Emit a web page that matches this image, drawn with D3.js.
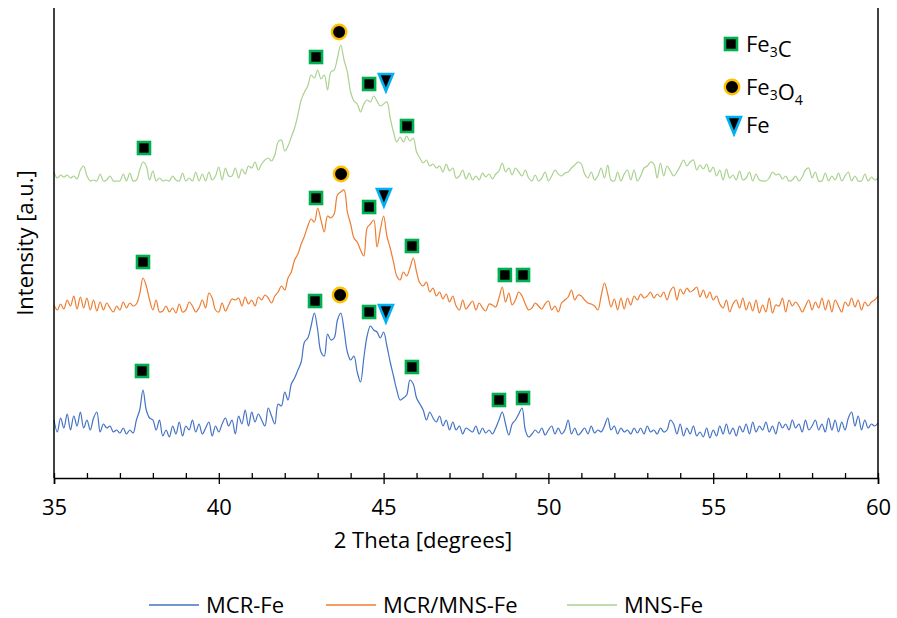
<!DOCTYPE html>
<html>
<head>
<meta charset="utf-8">
<script src="https://cdn.jsdelivr.net/npm/d3@7"></script>
<style>
  html, body { margin: 0; padding: 0; background: #fff; }
  svg { display: block; font-family: "Open Sans", sans-serif; }
</style>
</head>
<body>
<svg id="chart" width="897" height="618"></svg>
<script>
// XRD patterns, 2θ from 35° to 60° in 0.1° steps (stacked, arbitrary units)
const thetaStart = 35;
const thetaStep = 0.1;

const seriesNames = ["MCR-Fe", "MCR/MNS-Fe", "MNS-Fe"];
const seriesColors = ["#4472C4", "#ED7D31", "#A9D18E"];

const mcrFe = [
  58,46,60,50,64,48,62,52,66,50,
  58,48,60,66,46,54,50,52,46,48,
  45,50,44,48,45,58,68,88,68,60,
  58,48,58,42,48,41,52,44,56,42,
  52,48,58,46,54,44,50,56,42,52,
  46,54,60,52,58,44,62,54,68,52,
  66,56,64,58,52,70,62,54,74,72,
  86,78,94,100,108,116,136,140,152,165,
  148,126,122,144,138,140,158,165,148,126,
  118,122,106,96,120,142,152,148,146,140,
  146,132,116,102,88,78,80,83,98,94,
  80,74,68,58,66,60,56,62,52,58,
  48,56,48,52,44,50,48,46,52,44,
  50,45,48,44,50,58,66,54,43,54,
  58,64,70,48,41,44,48,45,50,43,
  48,52,44,50,44,48,58,44,50,43,
  46,50,44,52,45,48,46,52,60,48,
  52,44,50,46,48,44,50,45,50,44,
  52,46,48,44,50,46,48,58,54,44,
  54,42,50,44,52,42,46,41,50,40,
  48,42,52,44,54,44,50,42,52,46,
  54,44,56,46,52,48,56,46,52,44,
  56,50,54,48,58,50,54,46,58,48,
  52,58,48,54,46,60,48,58,46,56,
  48,60,66,52,62,48,58,50,54,52,
  55
];

const mcrMnsFe = [
  173,168,174,169,178,172,182,169,181,170,
  180,168,178,167,176,168,175,170,166,172,
  168,176,170,175,172,174,184,200,192,178,
  168,178,166,167,172,166,170,165,174,166,
  168,176,172,166,170,178,170,185,180,168,
  166,175,167,173,179,178,180,172,181,174,
  178,172,181,178,183,180,175,182,186,192,
  188,200,206,218,224,234,242,252,259,256,
  270,258,246,262,260,264,283,286,288,266,
  254,240,236,228,222,250,254,258,231,248,
  262,242,230,216,202,198,206,202,210,220,
  206,195,192,196,186,190,182,186,179,184,
  176,182,172,168,178,169,173,177,168,175,
  170,167,174,173,171,180,191,176,185,173,
  178,186,182,174,168,170,175,172,169,174,
  177,168,172,166,175,178,181,188,178,183,
  182,178,175,174,172,168,182,195,184,171,
  179,168,180,169,180,173,182,178,184,180,
  182,186,180,184,181,186,178,187,191,178,
  189,184,190,186,188,191,181,188,180,186,
  178,182,174,170,178,166,174,178,170,180,
  168,176,167,178,165,173,166,180,165,173,
  172,180,166,178,172,176,172,166,172,178,
  168,176,170,180,168,178,166,178,172,166,
  176,172,180,171,178,168,176,172,176,178,
  182
];

const mnsFe = [
  306,300,303,301,303,300,302,299,308,312,
  302,297,298,297,304,297,298,302,297,297,
  297,304,297,305,297,298,308,316,312,298,
  307,297,300,297,298,297,302,298,297,305,
  297,300,297,306,297,304,297,306,298,302,
  311,298,310,302,302,310,300,309,304,312,
  310,316,308,314,318,320,317,323,336,338,
  327,332,341,350,363,378,386,392,403,400,
  408,399,403,388,406,408,420,433,418,406,
  386,377,374,366,374,378,376,382,377,372,
  374,376,360,346,336,341,336,342,337,340,
  326,320,315,318,312,314,310,312,306,314,
  307,310,300,302,308,299,305,298,302,298,
  305,301,304,299,304,307,315,306,310,303,
  310,306,302,308,300,297,303,297,300,306,
  297,302,308,304,302,305,306,310,313,316,
  314,304,300,306,298,302,310,300,313,298,
  297,306,297,304,308,298,308,297,302,310,
  312,316,314,300,315,302,312,307,302,306,
  312,318,312,316,318,308,313,309,314,306,
  311,302,308,298,309,300,303,298,307,298,
  300,306,297,304,298,297,297,300,306,303,
  304,299,302,297,298,302,297,301,308,310,
  300,306,297,297,305,297,302,298,305,297,
  302,306,297,302,297,297,304,297,301,298,
  300
];

const xTicks = [35, 40, 45, 50, 55, 60];

// Phase identification marks: 2θ position and level of each symbol
const peakMarks = [
  { phase: "Fe3C",  theta: 37.73, level: 330 },
  { phase: "Fe3C",  theta: 42.95, level: 421 },
  { phase: "Fe3O4", theta: 43.65, level: 446 },
  { phase: "Fe3C",  theta: 44.56, level: 394 },
  { phase: "Fe",    theta: 45.07, level: 396 },
  { phase: "Fe3C",  theta: 45.71, level: 352 },

  { phase: "Fe3C",  theta: 37.70, level: 216 },
  { phase: "Fe3C",  theta: 42.95, level: 280 },
  { phase: "Fe3O4", theta: 43.71, level: 304 },
  { phase: "Fe3C",  theta: 44.56, level: 271 },
  { phase: "Fe",    theta: 45.01, level: 281 },
  { phase: "Fe3C",  theta: 45.86, level: 232 },
  { phase: "Fe3C",  theta: 48.68, level: 203 },
  { phase: "Fe3C",  theta: 49.23, level: 203 },

  { phase: "Fe3C",  theta: 37.67, level: 107 },
  { phase: "Fe3C",  theta: 42.92, level: 177 },
  { phase: "Fe3O4", theta: 43.68, level: 183 },
  { phase: "Fe3C",  theta: 44.56, level: 166 },
  { phase: "Fe",    theta: 45.07, level: 165 },
  { phase: "Fe3C",  theta: 45.86, level: 111 },
  { phase: "Fe3C",  theta: 48.50, level: 78 },
  { phase: "Fe3C",  theta: 49.23, level: 80 }
];

const phaseKeys = ["Fe3C", "Fe3O4", "Fe"];
const phaseLabels = [
  [["Fe", false], ["3", true], ["C", false]],
  [["Fe", false], ["3", true], ["O", false], ["4", true]],
  [["Fe", false]]
];

// ---------- layout ----------
const svg = d3.select("#chart");
const plot = { left: 54, right: 878, top: 8, bottom: 478 };

const x = d3.scaleLinear().domain([35, 60]).range([plot.left, plot.right]);
const y = d3.scaleLinear().domain([0, 470]).range([plot.bottom, plot.top]);

// ---------- curves ----------
const allSeries = [mcrFe, mcrMnsFe, mnsFe];
const line = d3.line()
  .x(d => x(d[0]))
  .y(d => y(d[1]))
  .curve(d3.curveCatmullRom.alpha(0.5));

const curveG = svg.append("g");
allSeries.forEach((vals, i) => {
  const pts = vals.map((v, k) => [thetaStart + k * thetaStep, v]);
  curveG.append("path")
    .datum(pts)
    .attr("d", line)
    .attr("fill", "none")
    .attr("stroke", seriesColors[i])
    .attr("stroke-width", 1.2)
    .attr("stroke-linejoin", "round");
});

// ---------- axes ----------
svg.append("line")
  .attr("x1", plot.left).attr("x2", plot.left)
  .attr("y1", plot.top).attr("y2", plot.bottom)
  .attr("stroke", "#000").attr("stroke-width", 1.5);
svg.append("line")
  .attr("x1", plot.right).attr("x2", plot.right)
  .attr("y1", plot.top).attr("y2", plot.bottom)
  .attr("stroke", "#000").attr("stroke-width", 1.5);

// minor ticks pointing into the plot
const minor = svg.append("g")
  .attr("transform", `translate(0,${plot.bottom})`)
  .call(d3.axisTop(x).ticks(25).tickSize(5).tickFormat(""));
minor.select(".domain").remove();
minor.selectAll(".tick line").attr("stroke", "#000").attr("stroke-width", 1.3);

// major ticks and labels
const major = svg.append("g")
  .attr("transform", `translate(0,${plot.bottom})`)
  .call(d3.axisBottom(x).tickValues(xTicks).tickSize(6).tickPadding(15).tickFormat(d3.format("d")));
major.select(".domain").attr("stroke", "#000").attr("stroke-width", 1.6);
major.selectAll(".tick line").attr("stroke", "#000").attr("stroke-width", 1.3);
major.selectAll(".tick text")
  .attr("fill", "#000")
  .style("font-family", "'Open Sans', sans-serif")
  .style("font-size", "22px");

svg.append("text")
  .attr("x", 423)
  .attr("y", 548)
  .attr("text-anchor", "middle")
  .style("font-size", "22px")
  .attr("fill", "#000")
  .text("2 Theta [degrees]");

svg.append("text")
  .attr("transform", `translate(33,243) rotate(-90)`)
  .attr("text-anchor", "middle")
  .style("font-size", "22px")
  .attr("fill", "#000")
  .text("Intensity [a.u.]");

// ---------- phase symbols ----------
function drawSymbol(g, phase, cx, cy) {
  if (phase === "Fe3C") {
    g.append("rect")
      .attr("x", cx - 6).attr("y", cy - 6)
      .attr("width", 12).attr("height", 12)
      .attr("fill", "#000").attr("stroke", "#00B050").attr("stroke-width", 2.6);
  } else if (phase === "Fe3O4") {
    g.append("circle")
      .attr("cx", cx).attr("cy", cy).attr("r", 7.2)
      .attr("fill", "#000").attr("stroke", "#FFC000").attr("stroke-width", 2.4);
  } else {
    g.append("path")
      .attr("d", `M${cx - 7},${cy - 8} L${cx + 7},${cy - 8} L${cx},${cy + 9} Z`)
      .attr("fill", "#000").attr("stroke", "#00B0F0").attr("stroke-width", 2.6)
      .attr("stroke-linejoin", "miter");
  }
}

const markG = svg.append("g");
peakMarks.forEach(m => drawSymbol(markG, m.phase, x(m.theta), y(m.level)));

// ---------- phase legend ----------
const phaseLegend = svg.append("g");
const phaseRowY = [44, 87, 125];
phaseKeys.forEach((key, i) => {
  drawSymbol(phaseLegend, key, 731 + (i === 2 ? 3 : i), phaseRowY[i]);
  const t = phaseLegend.append("text")
    .attr("x", 746)
    .attr("y", phaseRowY[i] + 8)
    .style("font-size", "22px")
    .attr("fill", "#000");
  phaseLabels[i].forEach(([s, isSub]) => {
    if (isSub) {
      t.append("tspan").attr("dy", 5).style("font-size", "14px").text(s);
      t.append("tspan").attr("dy", -5).text("");
    } else {
      t.append("tspan").text(s);
    }
  });
});

// ---------- series legend ----------
const legend = svg.append("g");
const legendX = [149, 326, 567];
seriesNames.forEach((name, i) => {
  legend.append("line")
    .attr("x1", legendX[i]).attr("x2", legendX[i] + 50)
    .attr("y1", 605).attr("y2", 605)
    .attr("stroke", seriesColors[i]).attr("stroke-width", 1.3);
  legend.append("text")
    .attr("x", legendX[i] + 57)
    .attr("y", 613)
    .style("font-size", "22px")
    .attr("fill", "#000")
    .text(name);
});
</script>
</body>
</html>
